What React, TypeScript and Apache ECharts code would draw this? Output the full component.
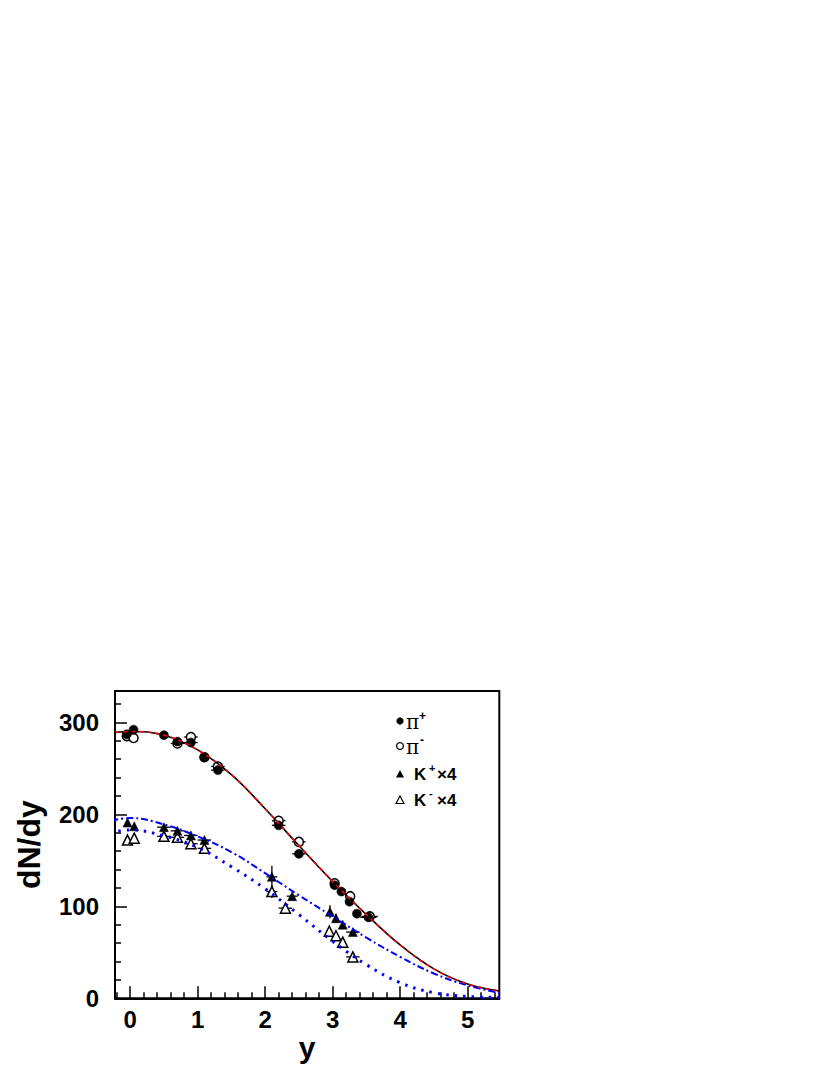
import React, { useEffect, useRef } from "react";
import * as echarts from "echarts";

// ---- tick values ----
const xMajorTicks = [0, 1, 2, 3, 4, 5];
const xMinorTicks = [-0.2, 0.2, 0.4, 0.6, 0.8, 1.2, 1.4, 1.6, 1.8, 2.2, 2.4, 2.6, 2.8, 3.2, 3.4, 3.6, 3.8, 4.2, 4.4, 4.6, 4.8, 5.2, 5.4];
const yMajorTicks = [0, 100, 200, 300];
const yMinorTicks = [20, 40, 60, 80, 120, 140, 160, 180, 220, 240, 260, 280, 320];

// ---- data points ----
const piPlusX = [-0.05, 0.05, 0.5, 0.7, 0.9, 1.1, 1.3, 2.2, 2.5, 3.03, 3.13, 3.25, 3.36, 3.53];
const piPlusY = [287, 292, 286, 279, 278, 262, 248, 188, 157, 123, 116, 105, 92, 88];
const piPlusXErr = [0, 0, 0, 0, 0.1, 0, 0.1, 0.1, 0.1, 0, 0, 0, 0, 0.12];
const piPlusYErr = [0, 0, 0, 0, 0, 0, 0, 0, 0, 0, 0, 0, 0, 0];

const piMinusX = [-0.05, 0.05, 0.7, 0.9, 1.1, 1.3, 2.2, 2.5, 3.03, 3.26, 3.55];
const piMinusY = [285, 283, 277, 284, 262, 252, 193, 170, 125, 111, 89];
const piMinusXErr = [0, 0, 0.1, 0.1, 0, 0.1, 0.1, 0.1, 0, 0, 0.12];
const piMinusYErr = [0, 0, 0, 0, 0, 0, 0, 0, 0, 0, 0];

const kPlusX = [-0.04, 0.06, 0.5, 0.7, 0.9, 1.1, 2.1, 2.4, 2.96, 3.05, 3.15, 3.3];
const kPlusY = [191, 187, 186, 182, 177, 172, 132, 111, 94, 87, 80, 72];
const kPlusXErr = [0, 0, 0.1, 0.1, 0.1, 0.1, 0.08, 0.08, 0, 0, 0, 0.1];
const kPlusYErr = [0, 0, 3, 3, 3, 3, 12, 0, 7, 5, 0, 0];

const kMinusX = [-0.04, 0.06, 0.5, 0.7, 0.9, 1.1, 2.1, 2.3, 2.95, 3.05, 3.15, 3.3];
const kMinusY = [172, 174, 176, 175, 168, 163, 116, 98, 73, 68, 61, 45];
const kMinusXErr = [0, 0, 0.1, 0.1, 0.1, 0.1, 0.08, 0.1, 0, 0, 0, 0.1];
const kMinusYErr = [0, 0, 3, 3, 3, 3, 7, 0, 0, 0, 0, 0];

// ---- fit curves ----
const piFitX = [-0.22, 0, 0.5, 1, 1.5, 2, 2.5, 3, 3.5, 4, 4.5, 5, 5.47];
const piFitY = [289, 290, 286, 270, 243, 206, 166, 127, 91, 58, 32, 15.5, 8];

const kPlusFitX = [-0.28, 0, 0.5, 1, 1.5, 2, 2.5, 3, 3.5, 4, 4.5, 5, 5.47];
const kPlusFitY = [193, 196, 189, 176, 159, 136, 112, 89, 66, 45, 27, 14, 6];

const kMinusFitX = [-0.3, 0, 0.5, 1, 1.5, 2, 2.5, 3, 3.5, 4, 4.5, 5, 5.47];
const kMinusFitY = [180, 183, 176.5, 164, 143, 119, 91, 62, 36.5, 17, 6, 2, 1];

const FONT = "'Liberation Sans', Arial, Helvetica, sans-serif";
const SERIF = "'DejaVu Serif', 'Liberation Serif', serif";

function zip(xs: number[], ys: number[]) {
  return xs.map((x, i) => [x, ys[i]]);
}

function errorSeries(xs: number[], ys: number[], xe: number[], ye: number[]) {
  return {
    type: "custom",
    xAxisIndex: 0,
    yAxisIndex: 0,
    silent: true,
    z: 3,
    data: xs.map((x, i) => [x, ys[i], xe[i], ye[i]]),
    encode: { x: 0, y: 1 },
    renderItem: (params: any, api: any) => {
      const x = api.value(0);
      const y = api.value(1);
      const dx = api.value(2);
      const dy = api.value(3);
      const children: any[] = [];
      const st = { stroke: "#000", lineWidth: 1.3 };
      if (dx > 0) {
        const a = api.coord([x - dx, y]);
        const b = api.coord([x + dx, y]);
        children.push({ type: "line", shape: { x1: a[0], y1: a[1], x2: b[0], y2: b[1] }, style: st });
      }
      if (dy > 0) {
        const a = api.coord([x, y - dy]);
        const b = api.coord([x, y + dy]);
        children.push({ type: "line", shape: { x1: a[0], y1: a[1], x2: b[0], y2: b[1] }, style: st });
      }
      return { type: "group", children };
    },
  };
}

function markerSeries(name: string, xs: number[], ys: number[], symbol: string, filled: boolean, size: number) {
  return {
    type: "scatter",
    name,
    xAxisIndex: 0,
    yAxisIndex: 0,
    symbol,
    symbolSize: size,
    z: 4,
    data: zip(xs, ys),
    itemStyle: filled
      ? { color: "#000", borderColor: "#000", borderWidth: 0.5, opacity: 1 }
      : { color: "#fff", borderColor: "#000", borderWidth: 1.5, opacity: 1 },
    emphasis: { disabled: true },
  };
}

function fitSeries(xs: number[], ys: number[], color: string, width: number, dash: any, z: number) {
  return {
    type: "line",
    xAxisIndex: 0,
    yAxisIndex: 0,
    data: zip(xs, ys),
    smooth: 0.4,
    showSymbol: false,
    symbol: "none",
    clip: false,
    z,
    silent: true,
    lineStyle: { color, width, type: dash, cap: "butt" },
  };
}

export default function App() {
  const ref = useRef<HTMLDivElement>(null);

  useEffect(() => {
    if (!ref.current) return;
    const chart = echarts.init(ref.current, null, { renderer: "svg" });

    const gLeft = 115;
    const gTop = 691;
    const gRight = 499.3;
    const gBottom = 998.3;

    const legendX = 400;
    const rows = [721, 746, 774, 800];

    const option: any = {
      animation: false,
      backgroundColor: "#fff",
      grid: {
        left: gLeft,
        top: gTop,
        width: gRight - gLeft,
        height: gBottom - gTop,
        show: true,
        borderColor: "#000",
        borderWidth: 2,
        backgroundColor: "transparent",
        outerBoundsMode: "none",
        containLabel: false,
      },
      xAxis: [
        {
          type: "value",
          min: -0.225,
          max: 5.47,
          position: "bottom",
          axisLine: { show: true, onZero: false, lineStyle: { color: "#000", width: 2 } },
          axisTick: { show: true, inside: true, length: 12, customValues: xMajorTicks, lineStyle: { color: "#000", width: 1.5 } },
          axisLabel: { show: true, customValues: xMajorTicks, color: "#000", fontSize: 24, fontWeight: "bold", fontFamily: FONT, margin: 9 },
          splitLine: { show: false },
          name: "y",
          nameLocation: "middle",
          nameGap: 25,
          nameTextStyle: { color: "#000", fontSize: 30, fontWeight: "bold", fontFamily: FONT },
        },
        {
          type: "value",
          min: -0.225,
          max: 5.47,
          position: "bottom",
          axisLine: { show: false, onZero: false },
          axisTick: { show: true, inside: true, length: 6, customValues: xMinorTicks, lineStyle: { color: "#000", width: 1.5 } },
          axisLabel: { show: false },
          splitLine: { show: false },
        },
      ],
      yAxis: [
        {
          type: "value",
          min: 0,
          max: 334,
          position: "left",
          axisLine: { show: true, onZero: false, lineStyle: { color: "#000", width: 2 } },
          axisTick: { show: true, inside: true, length: 12, customValues: yMajorTicks, lineStyle: { color: "#000", width: 1.5 } },
          axisLabel: { show: true, customValues: yMajorTicks, color: "#000", fontSize: 24, fontWeight: "bold", fontFamily: FONT, margin: 16 },
          splitLine: { show: false },
          name: "dN/dy",
          nameLocation: "middle",
          nameRotate: 90,
          nameGap: 70,
          nameTextStyle: { color: "#000", fontSize: 32, fontWeight: "bold", fontFamily: FONT },
        },
        {
          type: "value",
          min: 0,
          max: 334,
          position: "left",
          axisLine: { show: false, onZero: false },
          axisTick: { show: true, inside: true, length: 6, customValues: yMinorTicks, lineStyle: { color: "#000", width: 1.5 } },
          axisLabel: { show: false },
          splitLine: { show: false },
        },
      ],
      series: [
        errorSeries(piPlusX, piPlusY, piPlusXErr, piPlusYErr),
        errorSeries(piMinusX, piMinusY, piMinusXErr, piMinusYErr),
        errorSeries(kPlusX, kPlusY, kPlusXErr, kPlusYErr),
        errorSeries(kMinusX, kMinusY, kMinusXErr, kMinusYErr),
        markerSeries("π-", piMinusX, piMinusY, "circle", false, 9),
        markerSeries("π+", piPlusX, piPlusY, "circle", true, 9),
        markerSeries("K-×4", kMinusX, kMinusY, "triangle", false, 10),
        markerSeries("K+×4", kPlusX, kPlusY, "triangle", true, 9),
        fitSeries(piFitX, piFitY, "#000", 1.6, "solid", 5),
        fitSeries(piFitX, piFitY, "#ff0000", 1.6, [4, 4], 6),
        fitSeries(kPlusFitX, kPlusFitY, "#0000ff", 2, [7, 3, 2, 3], 5),
        fitSeries(kMinusFitX, kMinusFitY, "#0000ff", 3, [2.5, 6], 5),
      ],
      graphic: [
        // legend markers
        { type: "circle", shape: { cx: legendX, cy: rows[0], r: 3.6 }, style: { fill: "#000" }, z: 10 },
        { type: "circle", shape: { cx: legendX, cy: rows[1], r: 3.4 }, style: { fill: "#fff", stroke: "#000", lineWidth: 1.3 }, z: 10 },
        { type: "polygon", shape: { points: [[legendX, rows[2] - 4], [legendX - 4, rows[2] + 3.5], [legendX + 4, rows[2] + 3.5]] }, style: { fill: "#000" }, z: 10 },
        { type: "polygon", shape: { points: [[legendX, rows[3] - 4], [legendX - 4, rows[3] + 3.5], [legendX + 4, rows[3] + 3.5]] }, style: { fill: "#fff", stroke: "#000", lineWidth: 1.2 }, z: 10 },
        // legend texts
        { type: "text", x: 406, y: rows[0] + 1, style: { text: "π", fontSize: 20, fontFamily: SERIF, fill: "#000", verticalAlign: "middle" }, z: 10 },
        { type: "text", x: 419, y: rows[0] - 5, style: { text: "+", fontSize: 12, fontWeight: "bold", fontFamily: FONT, fill: "#000", verticalAlign: "middle" }, z: 10 },
        { type: "text", x: 406, y: rows[1] + 1, style: { text: "π", fontSize: 20, fontFamily: SERIF, fill: "#000", verticalAlign: "middle" }, z: 10 },
        { type: "text", x: 420, y: rows[1] - 6, style: { text: "-", fontSize: 12, fontWeight: "bold", fontFamily: FONT, fill: "#000", verticalAlign: "middle" }, z: 10 },
        { type: "text", x: 414, y: rows[2], style: { text: "K", fontSize: 17, fontWeight: "bold", fontFamily: FONT, fill: "#000", verticalAlign: "middle" }, z: 10 },
        { type: "text", x: 429, y: rows[2] - 6, style: { text: "+", fontSize: 11, fontWeight: "bold", fontFamily: FONT, fill: "#000", verticalAlign: "middle" }, z: 10 },
        { type: "text", x: 437, y: rows[2], style: { text: "×4", fontSize: 17, fontWeight: "bold", fontFamily: FONT, fill: "#000", verticalAlign: "middle" }, z: 10 },
        { type: "text", x: 414, y: rows[3], style: { text: "K", fontSize: 17, fontWeight: "bold", fontFamily: FONT, fill: "#000", verticalAlign: "middle" }, z: 10 },
        { type: "text", x: 429, y: rows[3] - 7, style: { text: "-", fontSize: 11, fontWeight: "bold", fontFamily: FONT, fill: "#000", verticalAlign: "middle" }, z: 10 },
        { type: "text", x: 437, y: rows[3], style: { text: "×4", fontSize: 17, fontWeight: "bold", fontFamily: FONT, fill: "#000", verticalAlign: "middle" }, z: 10 },
      ],
    };

    chart.setOption(option);
    return () => {
      chart.dispose();
    };
  }, []);

  return <div ref={ref} style={{ position: "absolute", left: 0, top: 0, width: 830, height: 1075 }} />;
}
